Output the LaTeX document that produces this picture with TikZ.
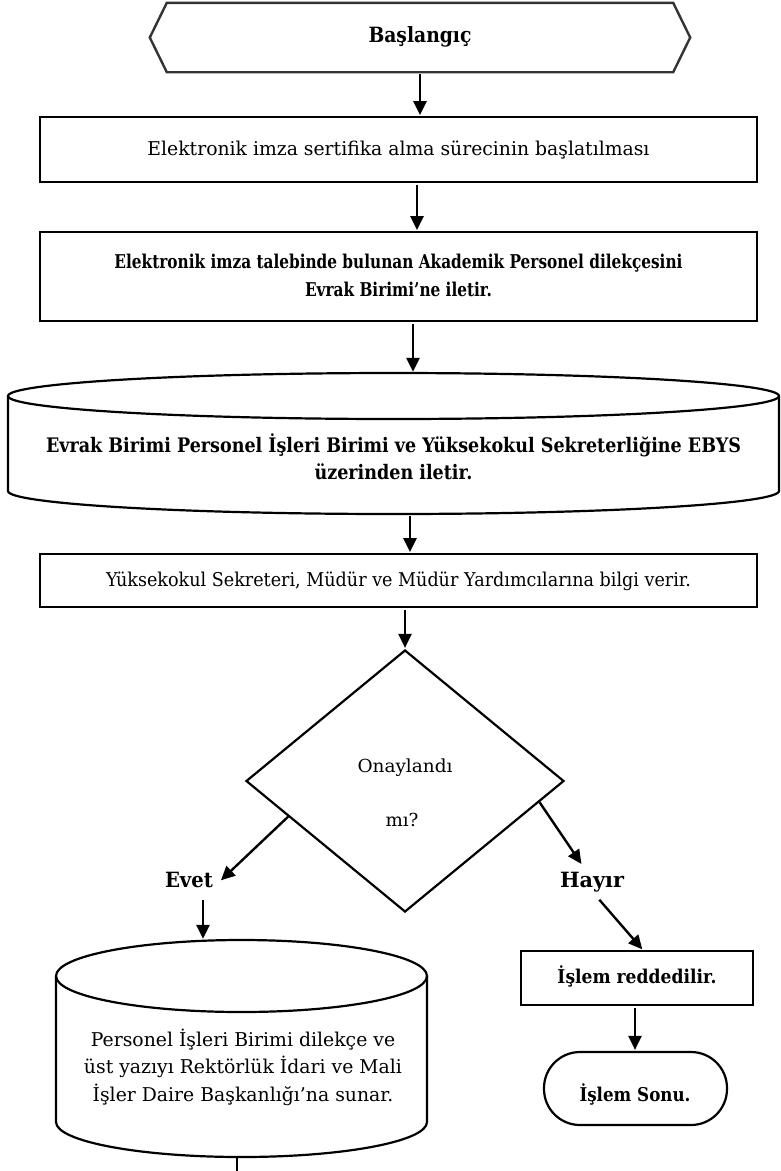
\documentclass[tikz,border=0pt]{standalone}
\usepackage{fontspec}
\setmainfont{DejaVu Serif}
\usetikzlibrary{arrows.meta,shapes.geometric,calc}
\newcommand\fwb[2]{\resizebox{#1pt}{\height}{\begin{tabular}{@{}c@{}}#2\end{tabular}}}
\begin{document}
\begin{tikzpicture}[x=1pt,y=-1pt,
  box/.style={draw, line width=1.8pt, inner sep=0pt},
  shapeline/.style={line width=2.2pt},
  arr/.style={line width=2.4pt, -{Triangle[length=14pt,width=13pt]}, shorten <=2pt, shorten >=1pt},
  txt/.style={inner sep=0pt, align=center, font=\fontsize{19}{28}\selectfont},
  btxt/.style={inner sep=0pt, align=center, font=\fontsize{19}{28}\selectfont\bfseries},
  lbl/.style={inner sep=3pt, font=\fontsize{21}{24}\selectfont\bfseries}
]
\useasboundingbox (0,0) rectangle (781,1171);

% x positions of the vertical connectors
\coordinate (xa) at (420,0);
\coordinate (xb) at (417,0);
\coordinate (xc) at (413,0);
\coordinate (xd) at (410,0);
\coordinate (xe) at (405,0);
\coordinate (xf) at (203,0);
\coordinate (xg) at (635,0);
\coordinate (xh) at (237,0);

% start
\node[inner sep=0pt, minimum width=540pt, minimum height=69pt, font=\fontsize{21}{24}\selectfont\bfseries] (start) at (420,37.5) {\fwb{103}{Başlangıç}};
\draw[line width=2.4pt, black!80] (start.west) -- ($(start.north west)+(17,0)$) -- ($(start.north east)+(-17,0)$) -- (start.east) -- ($(start.south east)+(-17,0)$) -- ($(start.south west)+(17,0)$) -- cycle;

% box 1
\node[box, txt, minimum width=717pt, minimum height=65pt] (b1) at (398.5,149.5) {\fwb{502}{Elektronik imza sertifika alma sürecinin başlatılması}};

% box 2
\node[box, btxt, minimum width=717pt, minimum height=89pt] (b2) at (398.5,276.5) {\fwb{568}{Elektronik imza talebinde bulunan Akademik Personel dilekçesini\\Evrak Birimi’ne iletir.}};

% cylinder 1
\node[inner sep=0pt, minimum width=771pt, minimum height=141pt] (c1) at (393.5,443.5) {};
\draw[shapeline] (8,396) -- (8,491) arc[start angle=180, end angle=360, x radius=385.5pt, y radius=23pt] -- (779,396);
\draw[shapeline] (393.5,396) ellipse[x radius=385.5pt, y radius=23pt];
\node[btxt, font=\fontsize{20}{27}\selectfont\bfseries] (c1t) at (393.5,461) {\fwb{695}{Evrak Birimi Personel İşleri Birimi ve Yüksekokul Sekreterliğine EBYS\\üzerinden iletir.}};

% box 3
\node[box, txt, minimum width=717pt, minimum height=53pt] (b3) at (398.5,580.5) {\fwb{585}{Yüksekokul Sekreteri, Müdür ve Müdür Yardımcılarına bilgi verir.}};

% decision
\node[diamond, draw, line width=2.2pt, inner sep=0pt, minimum width=318pt, minimum height=262pt] (d) at (405,781) {};
\node[txt, font=\fontsize{18}{20}\selectfont] (q1) at (405,768) {\fwb{95}{Onaylandı}};
\node[txt, font=\fontsize{18}{20}\selectfont] (q2) at (402,822) {\fwb{33}{mı?}};

\node[lbl] (ev) at (189,883) {\fwb{48}{Evet}};
\node[lbl] (hy) at (592,883) {\fwb{64}{Hayır}};

% cylinder 2
\node[inner sep=0pt, minimum width=371pt, minimum height=217pt] (c2) at (241.5,1048.5) {};
\draw[shapeline] (56,976) -- (56,1122) arc[start angle=180, end angle=360, x radius=185.5pt, y radius=35pt] -- (427,976);
\draw[shapeline] (241.5,976) ellipse[x radius=185.5pt, y radius=36pt];
\node[txt, font=\fontsize{19}{27.5}\selectfont] (c2t) at (243,1068) {\fwb{318}{Personel İşleri Birimi dilekçe ve\\üst yazıyı Rektörlük İdari ve Mali\\İşler Daire Başkanlığı’na sunar.}};

% reject branch
\node[box, btxt, minimum width=232pt, minimum height=54pt] (b4) at (637,978) {\fwb{159}{İşlem reddedilir.}};
\node[draw, line width=2.2pt, rounded corners=36pt, inner sep=0pt, minimum width=183pt, minimum height=73pt] (sonu) at (635.5,1088.5) {};
\node[btxt] (sonut) at (635,1096) {\fwb{111}{İşlem Sonu.}};

\coordinate (exit) at (237,1171);

% connectors
\draw[arr] (start.south -| xa) -- (b1.north -| xa);
\draw[arr] (b1.south -| xb) -- (b2.north -| xb);
\draw[arr] (b2.south -| xc) -- (c1.north -| xc);
\draw[arr] (c1.south -| xd) -- (b3.north -| xd);
\draw[arr] (b3.south -| xe) -- (d.north -| xe);
\draw[arr, shorten <=0pt] ($(d.west)!0.27!(d.south)$) -- ($(ev.east)+(4,-2)$);
\draw[arr, shorten <=0pt] ($(d.east)!0.16!(d.south)$) -- ($(hy.north)+(-10,-3)$);
\draw[arr] (ev.south -| xf) -- (c2.north -| xf);
\draw[arr] ($(hy.south)+(6,0)$) -- ($(b4.north)+(6,0)$);
\draw[arr] (b4.south -| xg) -- (sonu.north -| xg);
\draw[line width=2.4pt] (c2.south -| xh) -- (exit);
\end{tikzpicture}
\end{document}
